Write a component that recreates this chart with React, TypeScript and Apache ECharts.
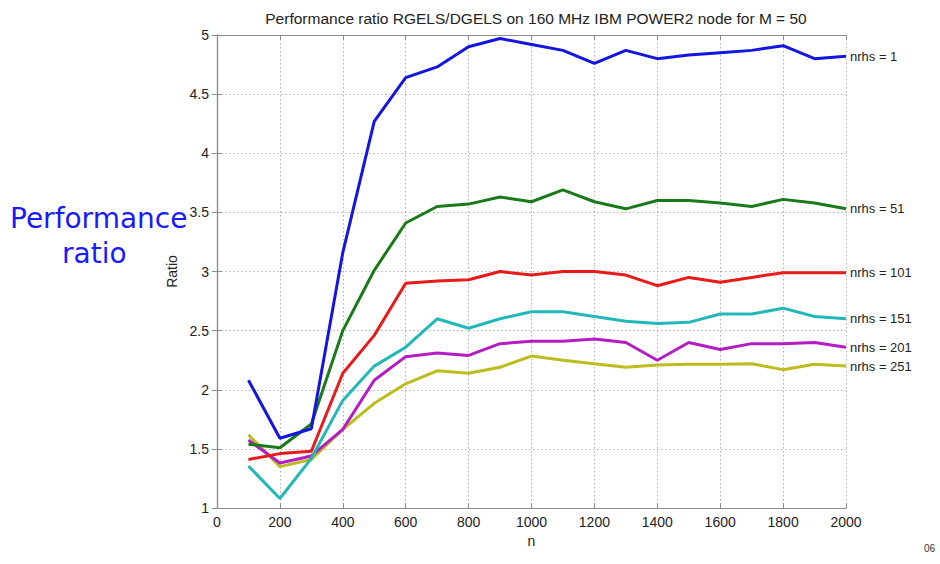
import React, { useEffect, useRef } from "react";
import * as echarts from "echarts";

const nValues = [100, 200, 300, 400, 500, 600, 700, 800, 900, 1000, 1100, 1200, 1300, 1400, 1500, 1600, 1700, 1800, 1900, 2000];
const seriesNames = ["nrhs = 1", "nrhs = 51", "nrhs = 101", "nrhs = 151", "nrhs = 201", "nrhs = 251"];
const nrhs1 = [2.08, 1.59, 1.67, 3.16, 4.27, 4.64, 4.73, 4.9, 4.97, 4.92, 4.87, 4.76, 4.87, 4.8, 4.83, 4.85, 4.87, 4.91, 4.8, 4.82];
const nrhs51 = [1.54, 1.51, 1.71, 2.5, 3.01, 3.41, 3.55, 3.57, 3.63, 3.59, 3.69, 3.59, 3.53, 3.6, 3.6, 3.58, 3.55, 3.61, 3.58, 3.53];
const nrhs101 = [1.41, 1.46, 1.48, 2.14, 2.46, 2.9, 2.92, 2.93, 3.0, 2.97, 3.0, 3.0, 2.97, 2.88, 2.95, 2.91, 2.95, 2.99, 2.99, 2.99];
const nrhs151 = [1.355, 1.08, 1.42, 1.91, 2.2, 2.36, 2.6, 2.52, 2.6, 2.66, 2.66, 2.62, 2.58, 2.56, 2.57, 2.64, 2.64, 2.69, 2.62, 2.6];
const nrhs201 = [1.575, 1.38, 1.44, 1.665, 2.08, 2.28, 2.31, 2.29, 2.39, 2.41, 2.41, 2.43, 2.4, 2.25, 2.4, 2.34, 2.39, 2.39, 2.4, 2.36];
const nrhs251 = [1.62, 1.35, 1.41, 1.665, 1.885, 2.05, 2.16, 2.14, 2.19, 2.285, 2.25, 2.22, 2.19, 2.21, 2.215, 2.215, 2.22, 2.17, 2.215, 2.2];
const allValues = [nrhs1, nrhs51, nrhs101, nrhs151, nrhs201, nrhs251];
const colors = ["#1515e0", "#1a7a1a", "#e81a1a", "#22b8b8", "#b41cc4", "#bcbc1c"];

const titleText = "Performance ratio RGELS/DGELS on 160 MHz IBM POWER2 node for M = 50";
const font = "'Liberation Sans Narrow', 'Liberation Sans', Arial, sans-serif";

export default function App() {
  const ref = useRef<HTMLDivElement>(null);
  useEffect(() => {
    if (!ref.current) return;
    const chart = echarts.init(ref.current, undefined, { renderer: "svg" });
    const axisLine = { show: true, lineStyle: { color: "#8c8c8c", width: 1.2 } };
    const tick = { show: true, inside: true, length: 5, lineStyle: { color: "#8c8c8c" } };
    chart.setOption({
      animation: false,
      backgroundColor: "#ffffff",
      title: {
        text: titleText,
        left: 531,
        top: 5,
        textAlign: "center",
        textStyle: { fontFamily: font, fontSize: 15.5, fontWeight: "normal", color: "#222" },
      },
      graphic: [
        {
          type: "text",
          left: 10,
          top: 204,
          style: {
            text: "Performance",
            font: "28px 'DejaVu Sans', Verdana, sans-serif",
            fill: "#1a1aff",
          },
        },
        {
          type: "text",
          left: 62,
          top: 239,
          style: {
            text: "ratio",
            font: "28px 'DejaVu Sans', Verdana, sans-serif",
            fill: "#1a1aff",
          },
        },
        {
          type: "text",
          left: 924,
          top: 543,
          style: { text: "06", font: "10px " + font, fill: "#333" },
        },
      ],
      grid: { left: 217, right: 94, top: 35, bottom: 56, containLabel: false },
      xAxis: [
        {
          type: "value",
          min: 0,
          max: 2000,
          interval: 200,
          name: "n",
          nameLocation: "middle",
          nameGap: 24,
          nameTextStyle: { fontFamily: font, fontSize: 14, color: "#222" },
          axisLine,
          axisTick: tick,
          axisLabel: { fontFamily: font, fontSize: 14, color: "#222", margin: 7, formatter: (v: number) => String(v) },
          splitLine: { show: true, lineStyle: { type: [1.5, 2.5], color: "#b0b0b0" } },
        },
        {
          type: "value",
          position: "top",
          min: 0,
          max: 2000,
          interval: 200,
          axisLine,
          axisTick: tick,
          axisLabel: { show: false },
          splitLine: { show: false },
        },
      ],
      yAxis: [
        {
          type: "value",
          min: 1,
          max: 5,
          interval: 0.5,
          name: "Ratio",
          nameLocation: "middle",
          nameGap: 30,
          nameTextStyle: { fontFamily: font, fontSize: 14, color: "#222" },
          axisLine,
          axisTick: tick,
          axisLabel: { fontFamily: font, fontSize: 14, color: "#222", margin: 8 },
          splitLine: { show: true, lineStyle: { type: [1.5, 2.5], color: "#b0b0b0" } },
        },
        {
          type: "value",
          position: "right",
          min: 1,
          max: 5,
          interval: 0.5,
          axisLine,
          axisTick: tick,
          axisLabel: { show: false },
          splitLine: { show: false },
        },
      ],
      series: allValues.map((vals, i) => ({
        name: seriesNames[i],
        type: "line",
        xAxisIndex: 0,
        yAxisIndex: 0,
        data: vals.map((v, j) => [nValues[j], v]),
        showSymbol: false,
        symbol: "none",
        lineStyle: { color: colors[i], width: 3 },
        itemStyle: { color: colors[i] },
        endLabel: {
          show: true,
          formatter: seriesNames[i],
          distance: 4,
          fontFamily: font,
          fontSize: 13,
          color: "#222",
        },
        z: 10 - i,
      })),
    });
    return () => chart.dispose();
  }, []);
  return <div ref={ref} style={{ width: 940, height: 564, position: "absolute", left: 0, top: 0 }} />;
}
